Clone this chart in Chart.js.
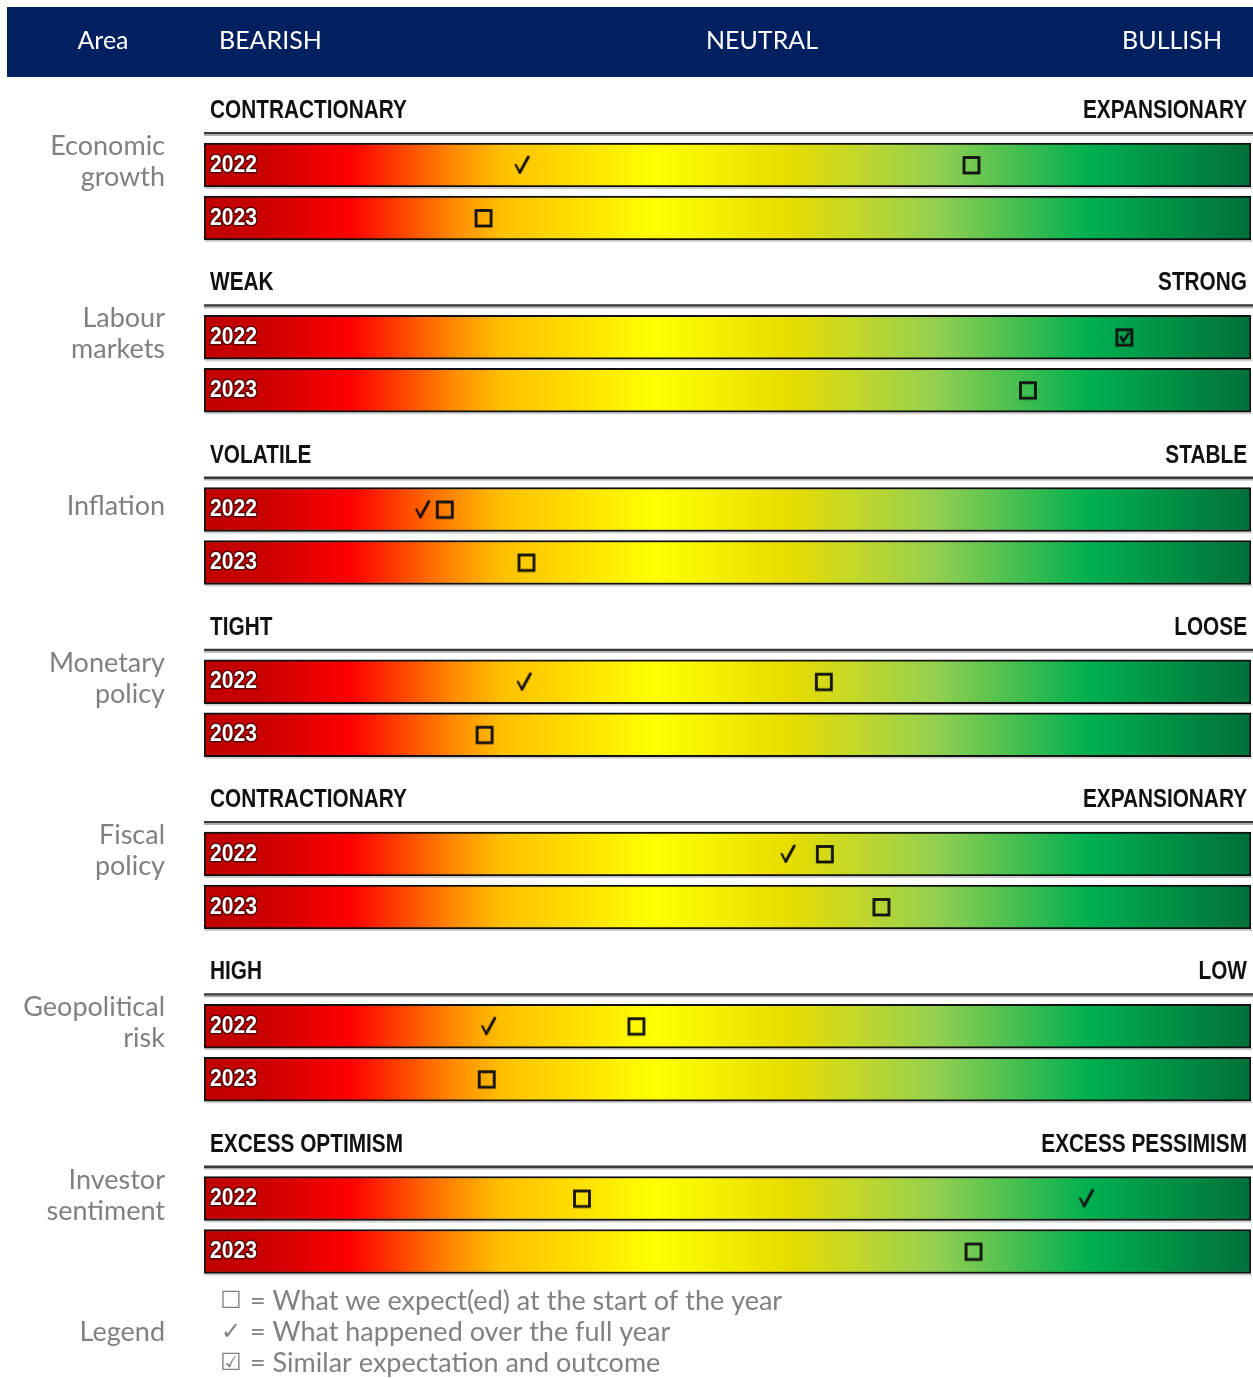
<!DOCTYPE html>
<html>
<head>
<meta charset="utf-8">
<script src="https://cdn.jsdelivr.net/npm/chart.js"></script>
<style>
  body { margin: 0; background: #fff; }
  #chart { display: block; }
</style>
</head>
<body>
<canvas id="chart" width="1253" height="1378"></canvas>
<script>
// areas and the words at both ends of each scale
let areas = ['Economic growth', 'Labour markets', 'Inflation', 'Monetary policy', 'Fiscal policy', 'Geopolitical risk', 'Investor sentiment'];
let lowLabels = ['CONTRACTIONARY', 'WEAK', 'VOLATILE', 'TIGHT', 'CONTRACTIONARY', 'HIGH', 'EXCESS OPTIMISM'];
let highLabels = ['EXPANSIONARY', 'STRONG', 'STABLE', 'LOOSE', 'EXPANSIONARY', 'LOW', 'EXCESS PESSIMISM'];
let years = ['2022', '2023'];
let headerLabels = ['Area', 'BEARISH', 'NEUTRAL', 'BULLISH'];

// positions on a 0 (bearish) .. 100 (bullish) scale, null = no mark
let expected2022 = [73.3, null, 23.0, 59.2, 59.3, 41.3, 36.1];
let outcome2022 = [30.4, null, 20.9, 30.6, 55.8, 27.2, 84.3];
let similar2022 = [null, 87.9, null, null, null, null, null];
let expected2023 = [26.7, 78.7, 30.8, 26.8, 64.7, 27.0, 73.5];

let legendItems = [
    ['\u2610', 'What we expect(ed) at the start of the year'],
    ['\u2713', 'What happened over the full year'],
    ['\u2611', 'Similar expectation and outcome']
];

let groupStep = 3.25;
function rowY(g, j) { return g * groupStep + j; }

let bars = [];
let expPts = [];
let outPts = [];
let simPts = [];
areas.forEach((a, g) => {
    years.forEach((yr, j) => bars.push({ x: [0, 100], y: rowY(g, j) }));
    if (expected2022[g] != null) expPts.push({ x: expected2022[g], y: rowY(g, 0) });
    if (expected2023[g] != null) expPts.push({ x: expected2023[g], y: rowY(g, 1) });
    if (outcome2022[g] != null) outPts.push({ x: outcome2022[g], y: rowY(g, 0) });
    if (similar2022[g] != null) simPts.push({ x: similar2022[g], y: rowY(g, 0) });
});

// marker images
function makeMark(kind) {
    let c = document.createElement('canvas');
    c.width = 26; c.height = 26;
    let x = c.getContext('2d');
    x.strokeStyle = '#111';
    if (kind == 'box' || kind == 'checkbox') {
        x.lineWidth = 2.8;
        x.strokeRect(5.5, 5.5, 15, 15.5);
    }
    if (kind == 'check') {
        x.lineCap = 'round';
        x.lineJoin = 'round';
        x.lineWidth = 2.2;
        x.beginPath();
        x.moveTo(6.5, 13);
        x.lineTo(10.5, 20.5);
        x.stroke();
        x.lineWidth = 2.8;
        x.beginPath();
        x.moveTo(10.5, 20.5);
        x.lineTo(19, 5);
        x.stroke();
    }
    if (kind == 'checkbox') {
        x.lineWidth = 2.6;
        x.beginPath();
        x.moveTo(9, 12);
        x.lineTo(12, 17);
        x.lineTo(18, 8);
        x.stroke();
    }
    return c;
}

let stops = [
    [0, '#c00000'], [0.06, '#cc0000'], [0.14, '#ff0000'], [0.24, '#ff8c00'], [0.285, '#ffc000'],
    [0.43, '#ffff00'], [0.56, '#e6dc00'], [0.62, '#c4d828'], [0.70, '#92d050'],
    [0.845, '#00b050'], [1, '#00703a']
];

function barFill(ctx) {
    let area = ctx.chart.chartArea;
    if (!area) return '#ff0';
    let gr = ctx.chart.ctx.createLinearGradient(area.left, 0, area.right, 0);
    stops.forEach(s => gr.addColorStop(s[0], s[1]));
    return gr;
}

function condText(ctx, txt, x, y, align, sx) {
    ctx.save();
    ctx.translate(x, y);
    ctx.scale(sx, 1);
    ctx.textAlign = align;
    ctx.fillText(txt, 0, 0);
    ctx.restore();
}

let decor = {
    id: 'decor',
    beforeDatasetsDraw(chart) {
        let ctx = chart.ctx;
        let ys = chart.scales.y;
        let left = chart.chartArea.left;
        let right = chart.chartArea.right;
        ctx.save();
        // header band
        ctx.fillStyle = '#012060';
        ctx.fillRect(7, 7, 1246, 70);
        ctx.fillStyle = '#fff';
        ctx.font = '25px Lato';
        ctx.textBaseline = 'middle';
        ctx.textAlign = 'center';
        ctx.fillText(headerLabels[0], 103, 41);
        ctx.textAlign = 'left';
        ctx.fillText(headerLabels[1], 219, 41);
        ctx.textAlign = 'center';
        ctx.fillText(headerLabels[2], 762, 41);
        ctx.textAlign = 'right';
        ctx.fillText(headerLabels[3], 1222, 41);

        areas.forEach((a, g) => {
            let y0 = ys.getPixelForValue(rowY(g, 0));
            // scale end labels
            ctx.fillStyle = '#111';
            ctx.font = 'bold 26px "Liberation Sans"';
            condText(ctx, lowLabels[g], left + 6, y0 - 54, 'left', 0.8);
            condText(ctx, highLabels[g], right - 4, y0 - 54, 'right', 0.8);
            // double rule
            ctx.fillStyle = '#3a3a3a';
            ctx.fillRect(left, y0 - 33, 1253 - left, 2.5);
            ctx.fillStyle = '#b0b0b0';
            ctx.fillRect(left, y0 - 30.5, 1253 - left, 1.5);
            // area name
            ctx.fillStyle = '#808080';
            ctx.font = '27px Lato';
            ctx.textAlign = 'right';
            let words = a.split(' ');
            words.forEach((w, i) => {
                ctx.fillText(w, 165, y0 - 3 + (i - (words.length - 1) / 2) * 31);
            });
            // soft shadow under bars
            years.forEach((yr, j) => {
                let yy = ys.getPixelForValue(rowY(g, j));
                ctx.fillStyle = 'rgba(120,120,120,0.35)';
                ctx.fillRect(left + 1, yy + 22, right - left, 2);
            });
        });

        // legend
        let lastY = ys.getPixelForValue(rowY(areas.length - 1, 1));
        ctx.fillStyle = '#808080';
        ctx.font = '27px Lato';
        ctx.textAlign = 'right';
        ctx.fillText('Legend', 165, lastY + 81);
        legendItems.forEach((it, i) => {
            let yy = lastY + 50 + i * 31;
            ctx.textAlign = 'center';
            ctx.font = '24px "DejaVu Sans"';
            ctx.fillText(it[0], 231, yy);
            ctx.textAlign = 'left';
            ctx.font = '27px Lato';
            ctx.fillText('= ' + it[1], 250, yy);
        });
        ctx.restore();
    },
    afterDatasetDraw(chart, args) {
        if (args.index != 0) return;
        let ctx = chart.ctx;
        let ys = chart.scales.y;
        ctx.save();
        ctx.font = 'bold 24px "Liberation Sans"';
        ctx.textBaseline = 'middle';
        ctx.lineJoin = 'round';
        areas.forEach((a, g) => {
            years.forEach((yr, j) => {
                let yy = ys.getPixelForValue(rowY(g, j));
                ctx.save();
                ctx.translate(chart.chartArea.left + 6, yy);
                ctx.scale(0.88, 1);
                ctx.strokeStyle = '#5a0000';
                ctx.lineWidth = 3;
                ctx.strokeText(yr, 0, 0);
                ctx.fillStyle = '#fff';
                ctx.fillText(yr, 0, 0);
                ctx.restore();
            });
        });
        ctx.restore();
    }
};

let ctx = document.getElementById('chart');

new Chart(ctx, {
    type: 'bar',
    data: {
        datasets: [{
            label: 'range',
            data: bars,
            backgroundColor: barFill,
            borderColor: '#111',
            borderWidth: 2,
            borderSkipped: false,
            barThickness: 44,
            order: 3
        }, {
            type: 'scatter',
            label: 'expected',
            data: expPts,
            pointStyle: makeMark('box'),
            order: 1
        }, {
            type: 'scatter',
            label: 'outcome',
            data: outPts,
            pointStyle: makeMark('check'),
            order: 1
        }, {
            type: 'scatter',
            label: 'similar',
            data: simPts,
            pointStyle: makeMark('checkbox'),
            order: 1
        }]
    },
    options: {
        indexAxis: 'y',
        responsive: false,
        animation: false,
        layout: { autoPadding: false, padding: { left: 204, right: 2, top: 0, bottom: 0 } },
        scales: {
            x: { type: 'linear', min: 0, max: 100, display: false },
            y: { type: 'linear', min: -3.113, max: 22.887, reverse: true, offset: false, display: false }
        },
        plugins: {
            legend: { display: false },
            tooltip: { enabled: false }
        }
    },
    plugins: [decor]
});
</script>
</body>
</html>
